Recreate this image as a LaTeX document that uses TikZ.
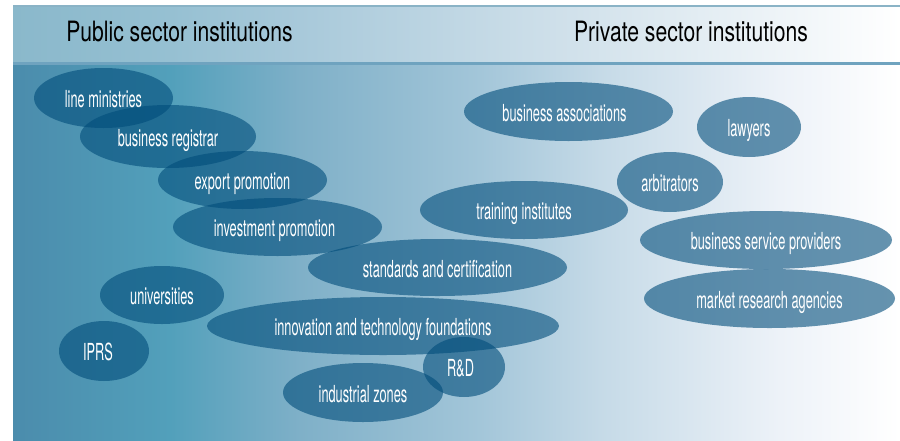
\documentclass[tikz,border=0pt]{standalone}
\usepackage{fontspec}
\setmainfont{TeX Gyre Heros}
\newfontfamily\lblfont[FakeStretch=0.543]{TeX Gyre Heros}
\newfontfamily\ttlfont[FakeStretch=0.755]{TeX Gyre Heros}
\usetikzlibrary{shapes.geometric}
\definecolor{blobfill}{RGB}{0,76,122}
\definecolor{topline}{RGB}{138,179,198}
\definecolor{midline}{RGB}{111,163,191}
\pgfdeclarehorizontalshading{mainbg}{100bp}{rgb(0bp)=(0.294,0.549,0.675); rgb(25bp)=(0.294,0.549,0.675); rgb(33.85bp)=(0.322,0.627,0.733); rgb(41.18bp)=(0.498,0.690,0.784); rgb(51.3bp)=(0.639,0.776,0.851); rgb(58.1bp)=(0.773,0.855,0.906); rgb(68.2bp)=(0.929,0.949,0.973); rgb(75bp)=(1,1,1); rgb(100bp)=(1,1,1)}
\pgfdeclarehorizontalshading{hdrbg}{100bp}{rgb(0bp)=(0.541,0.722,0.796); rgb(25bp)=(0.541,0.722,0.796); rgb(33.85bp)=(0.588,0.753,0.824); rgb(41.18bp)=(0.659,0.788,0.855); rgb(55.8bp)=(0.812,0.878,0.918); rgb(75bp)=(1,1,1); rgb(100bp)=(1,1,1)}
\begin{document}
\begin{tikzpicture}[x=1pt,y=-1pt,
  blob/.style={ellipse, fill=blobfill, fill opacity=0.6, text opacity=1, text=white,
    inner sep=0pt, font=\lblfont\fontsize{23.5}{25}\selectfont, text height=19pt, text depth=0pt},
  ttl/.style={anchor=base, inner sep=0pt, text=black, font=\ttlfont\fontsize{28}{30}\selectfont}]
\useasboundingbox (0,0) rectangle (900,440);
\shade[shading=mainbg] (13,65) rectangle (900,440);
\shade[shading=hdrbg] (13,5) rectangle (900,63);
\draw[topline, line width=2pt] (13,6) -- (900,6);
\draw[midline, line width=2.5pt] (13,63.5) -- (900,63.5);
\node[ttl] (pub) at (179.5,41) {Public sector institutions};
\node[ttl] (priv) at (691,41) {Private sector institutions};
% public sector
\node[blob, minimum width=139pt, minimum height=60pt] (lm) at (103.5,98) {line ministries};
\node[blob, minimum width=176pt, minimum height=63pt] (br) at (168,136.5) {business registrar};
\node[blob, minimum width=169pt, minimum height=58pt] (ep) at (242.5,180) {export promotion};
\node[blob, minimum width=209pt, minimum height=58pt] (ip) at (277.5,227) {investment promotion\hspace*{6pt}};
\node[blob, minimum width=259pt, minimum height=57pt] (sc) at (437.5,267.5) {standards and certification};
\node[blob, minimum width=124pt, minimum height=58pt] (un) at (162,295) {universities};
\node[blob, minimum width=90pt, minimum height=60pt] (ipr) at (104,351) {IPRS\hspace*{12pt}};
\node[blob, minimum width=352pt, minimum height=58pt] (itf) at (383,326) {innovation and technology foundations};
\node[blob, minimum width=82pt, minimum height=60pt] (rd) at (464,367) {R\&D\hspace*{7pt}};
\node[blob, minimum width=160pt, minimum height=59pt] (iz) at (363,392.5) {industrial zones};
% private sector
\node[blob, minimum width=209pt, minimum height=59pt] (ba) at (568.5,111.5) {business associations\hspace*{8pt}};
\node[blob, minimum width=104pt, minimum height=60pt] (law) at (749,127) {lawyers};
\node[blob, minimum width=106pt, minimum height=60pt] (arb) at (670,182) {arbitrators};
\node[blob, minimum width=208pt, minimum height=58pt] (ti) at (524,210) {training institutes};
\node[blob, minimum width=252pt, minimum height=58pt] (bsp) at (766,240) {business service providers};
\node[blob, minimum width=251pt, minimum height=59pt] (mra) at (769.5,298.5) {market research agencies};
\end{tikzpicture}
\end{document}
